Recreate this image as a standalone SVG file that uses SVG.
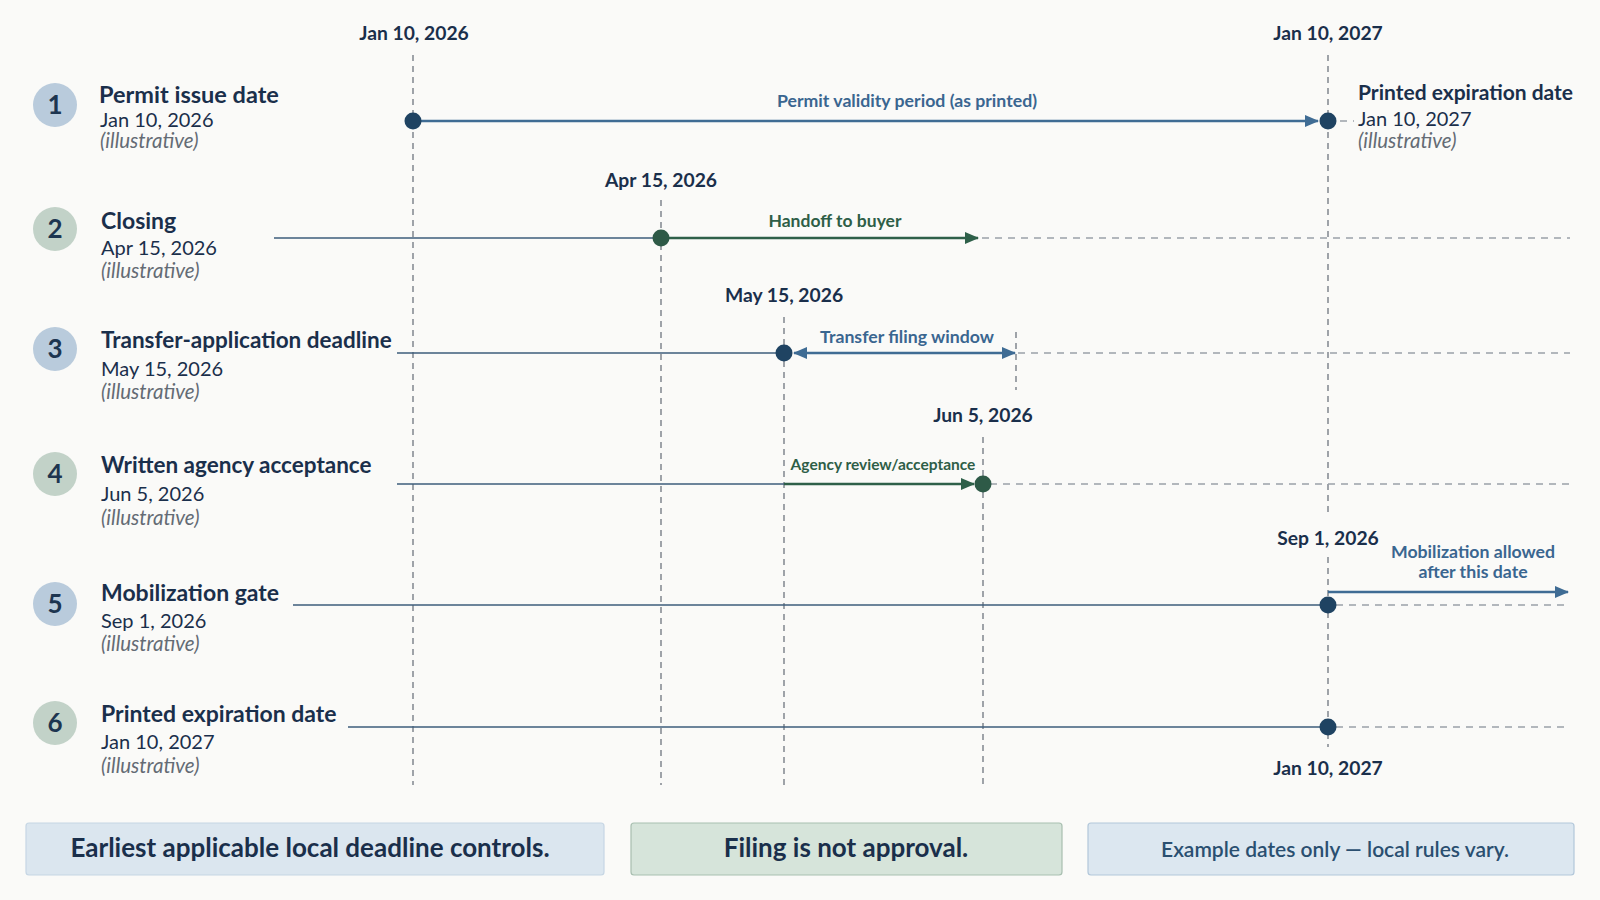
<svg xmlns="http://www.w3.org/2000/svg" width="1600" height="900" viewBox="0 0 1600 900">
<style>
.bg{fill:#fafaf8}
.vl{stroke:#6f767e;stroke-width:1.3;stroke-dasharray:6 5;fill:none}
.gd{stroke:#9aa1a8;stroke-width:1.4;stroke-dasharray:7 6;fill:none}
.nl{stroke:#3d5d7b;stroke-width:1.6;fill:none}
.num{font-family:Lato,"Noto Sans",sans-serif;font-weight:700;font-size:26px;fill:#1d3550;text-anchor:middle}
.ttl{font-family:Lato,"Noto Sans",sans-serif;font-weight:700;font-size:23px;fill:#1a2f4b}
.dt{font-family:Lato,"Noto Sans",sans-serif;font-size:20px;fill:#1a2f4b}
.il{font-family:Lato,"Noto Sans",sans-serif;font-style:italic;font-size:20.5px;fill:#646b74}
.ax{font-family:Lato,"Noto Sans",sans-serif;font-weight:700;font-size:19.3px;fill:#1a2f4b;text-anchor:middle}
.lb{font-family:Lato,"Noto Sans",sans-serif;font-weight:700;font-size:17.7px;fill:#3a6690;text-anchor:middle}
.lg{font-family:Lato,"Noto Sans",sans-serif;font-weight:700;font-size:17.5px;fill:#2e5e47;text-anchor:middle}
.ft{font-family:Lato,"Noto Sans",sans-serif;font-weight:700;font-size:26px;fill:#1a2f4b;text-anchor:middle}
.dn{fill:#1f4362}
.dg{fill:#2e5a47}
</style>
<defs>
<marker id="ab" viewBox="0 0 14 12" refX="13" refY="6" markerWidth="14" markerHeight="12" markerUnits="userSpaceOnUse" orient="auto-start-reverse"><path d="M0,0 L14,6 L0,12 Z" fill="#3f6c94"/></marker>
<marker id="ag" viewBox="0 0 14 12" refX="13" refY="6" markerWidth="14" markerHeight="12" markerUnits="userSpaceOnUse" orient="auto"><path d="M0,0 L14,6 L0,12 Z" fill="#2e6049"/></marker>
</defs>
<rect class="bg" x="0" y="0" width="1600" height="900"/>

<g id="axis-labels">
<text class="ax" x="414" y="40">Jan 10, 2026</text>
<text class="ax" x="1328" y="40">Jan 10, 2027</text>
<text class="ax" x="661" y="187">Apr 15, 2026</text>
<text class="ax" x="784" y="302">May 15, 2026</text>
<text class="ax" x="983" y="422">Jun 5, 2026</text>
<text class="ax" x="1328" y="545">Sep 1, 2026</text>
<text class="ax" x="1328" y="775">Jan 10, 2027</text>
</g>

<g id="connectors">
<line class="vl" x1="413" y1="55" x2="413" y2="785"/>
<line class="vl" x1="661" y1="200" x2="661" y2="785"/>
<line class="vl" x1="784" y1="317" x2="784" y2="785"/>
<line class="vl" x1="983" y1="437" x2="983" y2="785"/>
<line class="vl" x1="1328" y1="55" x2="1328" y2="515"/>
<line class="vl" x1="1328" y1="557" x2="1328" y2="747"/>
<line class="vl" x1="1016" y1="332" x2="1016" y2="390"/>
<line x1="413" y1="121" x2="1318" y2="121" stroke="#3f6c94" stroke-width="2.5" marker-end="url(#ab)"/>
<line class="gd" x1="1340" y1="121" x2="1354" y2="121"/>
<line class="nl" x1="274" y1="238" x2="661" y2="238"/>
<line x1="661" y1="238" x2="978" y2="238" stroke="#2e6049" stroke-width="2.5" marker-end="url(#ag)"/>
<line class="gd" x1="982" y1="238" x2="1570" y2="238"/>
<line class="nl" x1="397" y1="353" x2="784" y2="353"/>
<line x1="794" y1="353" x2="1015" y2="353" stroke="#3f6c94" stroke-width="2.5" marker-start="url(#ab)" marker-end="url(#ab)"/>
<line class="gd" x1="1018" y1="353" x2="1570" y2="353"/>
<line class="nl" x1="397" y1="484" x2="784" y2="484"/>
<line x1="784" y1="484" x2="974" y2="484" stroke="#2e6049" stroke-width="2.5" marker-end="url(#ag)"/>
<line class="gd" x1="990" y1="484" x2="1570" y2="484"/>
<line class="nl" x1="293" y1="605" x2="1328" y2="605"/>
<line class="gd" x1="1336" y1="605" x2="1570" y2="605"/>
<line x1="1328" y1="592" x2="1568" y2="592" stroke="#3f6c94" stroke-width="2.5" marker-end="url(#ab)"/>
<line class="nl" x1="348" y1="727" x2="1328" y2="727"/>
<line class="gd" x1="1336" y1="727" x2="1570" y2="727"/>
<text class="lb" x="907" y="107">Permit validity period (as printed)</text>
<text class="lg" x="835" y="227">Handoff to buyer</text>
<text class="lb" x="907" y="343">Transfer filing window</text>
<text class="lg" x="883" y="470" style="font-size:15.5px">Agency review/acceptance</text>
<text class="lb" x="1473" y="558">Mobilization allowed</text>
<text class="lb" x="1473" y="578">after this date</text>
</g>

<g id="dots">
<circle class="dn" cx="413" cy="121" r="8.5"/>
<circle class="dn" cx="1328" cy="121" r="8.5"/>
<circle class="dg" cx="661" cy="238" r="8.5"/>
<circle class="dn" cx="784" cy="353" r="8.5"/>
<circle class="dg" cx="983" cy="484" r="8.5"/>
<circle class="dn" cx="1328" cy="605" r="8.5"/>
<circle class="dn" cx="1328" cy="727" r="8.5"/>
</g>

<g id="node-1">
<circle cx="55" cy="105" r="22" fill="#b9cbdc"/>
<text class="num" x="55" y="114">1</text>
<text class="ttl" x="99" y="103" style="font-size:23.5px">Permit issue date</text>
<text class="dt" x="100" y="127">Jan 10, 2026</text>
<text class="il" x="100" y="148">(illustrative)</text>
</g>
<g id="node-1-expiry">
<text class="ttl" x="1358" y="100" style="font-size:21px">Printed expiration date</text>
<text class="dt" x="1358" y="126">Jan 10, 2027</text>
<text class="il" x="1358" y="148">(illustrative)</text>
</g>
<g id="node-2">
<circle cx="55" cy="229" r="22" fill="#c2d2c8"/>
<text class="num" x="55" y="238">2</text>
<text class="ttl" x="101" y="229">Closing</text>
<text class="dt" x="101" y="255">Apr 15, 2026</text>
<text class="il" x="101" y="278">(illustrative)</text>
</g>
<g id="node-3">
<circle cx="55" cy="349" r="22" fill="#b9cbdc"/>
<text class="num" x="55" y="358">3</text>
<text class="ttl" x="101" y="348" style="font-size:22.5px">Transfer-application deadline</text>
<text class="dt" x="101" y="376">May 15, 2026</text>
<text class="il" x="101" y="399">(illustrative)</text>
</g>
<g id="node-4">
<circle cx="55" cy="474" r="22" fill="#c2d2c8"/>
<text class="num" x="55" y="483">4</text>
<text class="ttl" x="101" y="473" style="font-size:22.5px">Written agency acceptance</text>
<text class="dt" x="101" y="501">Jun 5, 2026</text>
<text class="il" x="101" y="525">(illustrative)</text>
</g>
<g id="node-5">
<circle cx="55" cy="604" r="22" fill="#b9cbdc"/>
<text class="num" x="55" y="613">5</text>
<text class="ttl" x="101" y="601">Mobilization gate</text>
<text class="dt" x="101" y="628">Sep 1, 2026</text>
<text class="il" x="101" y="651">(illustrative)</text>
</g>
<g id="node-6">
<circle cx="55" cy="723" r="22" fill="#c2d2c8"/>
<text class="num" x="55" y="732">6</text>
<text class="ttl" x="101" y="722">Printed expiration date</text>
<text class="dt" x="101" y="749">Jan 10, 2027</text>
<text class="il" x="101" y="773">(illustrative)</text>
</g>

<g id="footer-1">
<rect x="26" y="823" width="578" height="52" rx="3" fill="#dbe6ef" stroke="#c6d6e4" stroke-width="1.2"/>
<text class="ft" x="310" y="857">Earliest applicable local deadline controls.</text>
</g>
<g id="footer-2">
<rect x="631" y="823" width="431" height="52" rx="3" fill="#d6e4da" stroke="#a8bfb0" stroke-width="1.2"/>
<text class="ft" x="846" y="857">Filing is not approval.</text>
</g>
<g id="footer-3">
<rect x="1088" y="823" width="486" height="52" rx="3" fill="#dce7f0" stroke="#b2c7da" stroke-width="1.2"/>
<text class="ft" x="1335" y="857" style="font-size:21px;font-weight:600;fill:#2a4f70">Example dates only — local rules vary.</text>
</g>
</svg>
